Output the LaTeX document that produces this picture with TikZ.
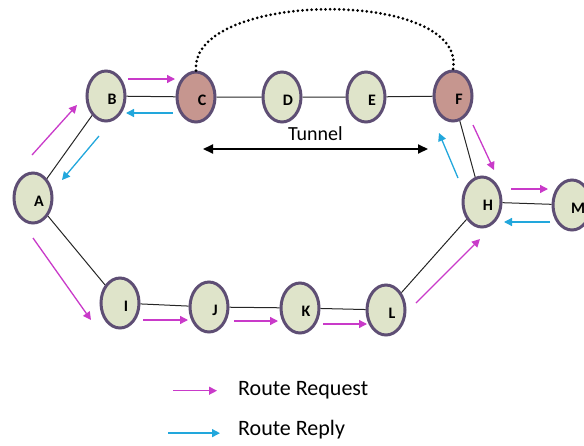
\documentclass[tikz,border=0pt]{standalone}
\usepackage{fontspec}
\setmainfont{Carlito}
\usetikzlibrary{shapes.geometric,arrows.meta,calc}
\definecolor{rim}{HTML}{5E4E74}
\definecolor{leaf}{HTML}{DFE4CA}
\definecolor{clay}{HTML}{C6968F}
\definecolor{reqc}{HTML}{C93AC9}
\definecolor{repc}{HTML}{22A7DC}

\begin{document}
\begin{tikzpicture}[
x=1pt, y=-1pt, %пиксели, ось y вниз
stn/.style={ellipse, draw=rim, line width=3pt, fill=leaf,
  minimum width=38pt, minimum height=50pt, inner sep=0pt,
  label={[font=\bfseries\fontsize{16}{16}\selectfont, shift={(6pt,-3pt)}]center:#1}},
gate/.style={stn=#1, fill=clay},
link/.style={line width=1pt, black!85},
req/.style={line width=1.3pt, reqc, -{Triangle[length=8pt,width=8pt]}},
rep/.style={line width=1.3pt, repc, -{Triangle[length=8pt,width=8pt]}},
]
\useasboundingbox (0,0) rectangle (584,445);

% узлы
\node[stn=A] (A) at (33,198) {};
\node[stn=B] (B) at (106,96) {};
\node[gate=C] (C) at (196,97) {};
\node[stn=D] (D) at (282,97) {};
\node[stn=E] (E) at (366,97) {};
\node[gate=F] (F) at (453,96) {};
\node[stn=H] (H) at (482,202) {};
\node[stn=M] (M) at (572,205) {};
\node[stn=I] (I) at (120,303) {};
\node[stn=J] (J) at (209,307) {};
\node[stn=K] (K) at (300,308) {};
\node[stn=L] (L) at (386,310) {};

\draw[link] (A) -- (B) -- (C) -- (D) -- (E) -- (F) -- (H) -- (M);
\draw[link] (A) -- (I) -- (J) -- (K) -- (L) -- (H);

% туннель
\draw[line width=3pt, dash pattern=on 0pt off 4.6pt, line cap=round]
  (C.north) .. controls (190,-10) and (468,-12) .. (F.north);
\draw[line width=2pt, {Triangle[length=10pt,width=9pt]}-{Triangle[length=10pt,width=9pt]}]
  ($(C)+(7,52)$) -- ($(F)+(-25,53)$)
  node[midway, above=4pt, font=\fontsize{20}{20}\selectfont] (tunlbl) {Tunnel};

% запрос
\draw[req] ($(A)+(-1,-43)$) -- ($(B)+(-29,9)$);
\draw[req] ($(B)+(22,-17)$) -- ($(C)+(-21,-18)$);
\draw[req] ($(F)+(20,29)$) -- ($(H)+(12,-32)$);
\draw[req] ($(H)+(29,-13)$) -- ($(M)+(-24,-16)$);
\draw[req] ($(A)+(0,40)$) -- ($(I)+(-29,17)$);
\draw[req] ($(I)+(23,17)$) -- ($(J)+(-21,13)$);
\draw[req] ($(J)+(25,14)$) -- ($(K)+(-22,13)$);
\draw[req] ($(K)+(23,16)$) -- ($(L)+(-19,14)$);
\draw[req] ($(L)+(30,-7)$) -- ($(H)+(-2,37)$);

% ответ
\draw[rep] ($(B)+(-7,40)$) -- ($(A)+(29,-18)$);
\draw[rep] ($(C)+(-23,16)$) -- ($(B)+(20,17)$);
\draw[rep] ($(H)+(-24,-24)$) -- ($(F)+(-14,37)$);
\draw[rep] ($(M)+(-22,17)$) -- ($(H)+(22,20)$);

% легенда
\node[anchor=base west, font=\fontsize{22}{22}\selectfont, inner sep=0pt] (reqtxt) at (238,395) {Route Request};
\node[anchor=base west, font=\fontsize{22}{22}\selectfont, inner sep=0pt] (reptxt) at (238,435) {Route Reply};
\draw[req] ([xshift=-65pt,yshift=-1pt]reqtxt.west) -- ([xshift=-21pt,yshift=-1pt]reqtxt.west);
\draw[rep] ([xshift=-70pt,yshift=-4pt]reptxt.west) -- ([xshift=-18pt,yshift=-4pt]reptxt.west);
\end{tikzpicture}
\end{document}
